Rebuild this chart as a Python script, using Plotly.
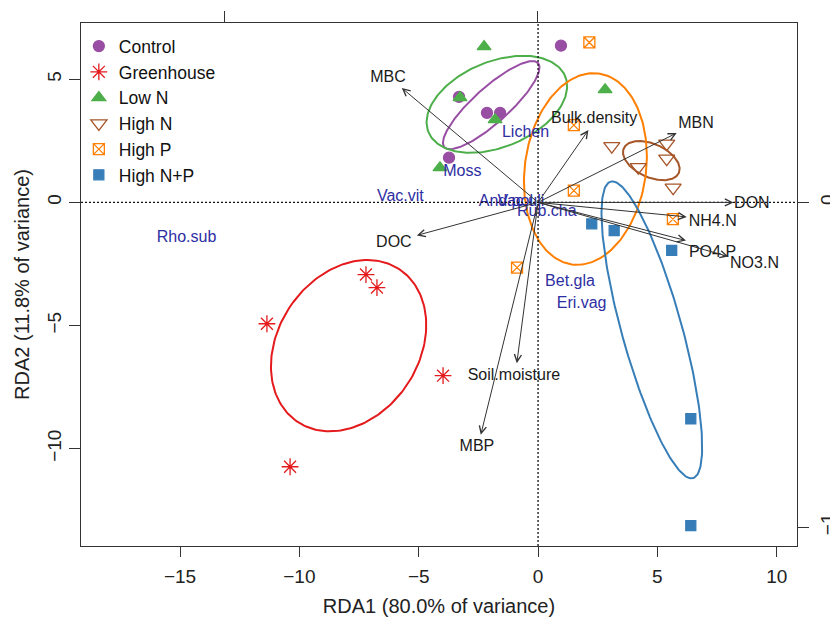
import numpy as np
import plotly.graph_objects as go

# ---------------- data ----------------
groups = ["Control", "Greenhouse", "Low N", "High N", "High P", "High N+P"]

ctrl_x = [0.96, -3.31, -2.14, -1.59, -3.73]
ctrl_y = [6.37, 4.29, 3.64, 3.64, 1.82]
gh_x = [-11.36, -7.21, -6.75, -10.39, -3.98]
gh_y = [-4.93, -2.93, -3.46, -10.74, -7.04]
lown_x = [-2.26, 2.81, -3.27, -1.80, -4.11]
lown_y = [6.33, 4.58, 4.26, 3.36, 1.41]
highn_x = [3.09, 5.39, 5.39, 4.20, 5.66]
highn_y = [2.29, 2.39, 1.78, 1.43, 0.60]
highp_x = [2.15, 1.50, 1.50, -0.88, 5.65]
highp_y = [6.50, 3.14, 0.48, -2.65, -0.68]
highnp_x = [2.25, 3.19, 5.60, 6.40, 6.40]
highnp_y = [-0.87, -1.15, -1.95, -8.79, -13.13]

env_names = ["MBC", "Bulk.density", "MBN", "DON", "NH4.N", "PO4.P", "NO3.N",
             "DOC", "Soil.moisture", "MBP"]
env_x = [-5.71, 2.11, 5.81, 8.19, 6.23, 6.20, 7.98, -5.08, -0.89, -2.40]
env_y = [4.65, 2.94, 2.82, 0.00, -0.59, -1.55, -2.20, -1.34, -6.53, -9.44]
env_lab_x = [-6.29, 2.35, 6.62, 8.96, 7.32, 7.31, 9.07, -6.04, -1.01, -2.56]
env_lab_y = [5.06, 3.39, 3.20, -0.07, -0.80, -2.07, -2.49, -1.65, -7.05, -9.94]

sp_names = ["Lichen", "Moss", "Vac.vit", "Rho.sub", "And.pol", "Vac.uli",
            "Rub.cha", "Bet.gla", "Eri.vag"]
sp_x = [-0.038, -0.240, -0.438, -1.121, -0.101, -0.053, 0.030, 0.104, 0.141]
sp_y = [0.214, 0.095, 0.018, -0.110, 0.002, 0.002, -0.029, -0.244, -0.312]

x_ticks = [-15, -10, -5, 0, 5, 10]
y_ticks = [-10, -5, 0, 5]
x2_ticks = [-1, 0]
y2_ticks = [-1, 0]

# ---------------- styles ----------------
group_xy = [(ctrl_x, ctrl_y), (gh_x, gh_y), (lown_x, lown_y),
            (highn_x, highn_y), (highp_x, highp_y), (highnp_x, highnp_y)]
colors = ["#984EA3", "#E41A1C", "#4DAF4A", "#A65628", "#FF7F00", "#377EB8"]
symbols = ["circle", "asterisk-open", "triangle-up", "triangle-down-open",
           "square-x-open", "square"]
sizes = [11, 14, 12, 14, 11, 10]
FONT = "Liberation Sans, Arial, sans-serif"


def se_ellipse(x, y, conf_scale=np.sqrt(5.991465), n=200):
    pts = np.column_stack([x, y])
    c = pts.mean(axis=0)
    cov = np.cov(pts.T) / len(x)
    vals, vecs = np.linalg.eigh(cov)
    t = np.linspace(0, 2 * np.pi, n)
    circ = np.column_stack([np.cos(t), np.sin(t)])
    e = circ * np.sqrt(vals) * conf_scale
    e = e @ vecs.T + c
    return e[:, 0], e[:, 1]


fig = go.Figure()

# ellipses
for (gx, gy), col in zip(group_xy, colors):
    ex, ey = se_ellipse(gx, gy)
    fig.add_trace(go.Scatter(x=ex, y=ey, mode="lines", line=dict(color=col, width=2),
                             showlegend=False, hoverinfo="skip"))

# points
for name, (gx, gy), col, sym, sz in zip(groups, group_xy, colors, symbols, sizes):
    fig.add_trace(go.Scatter(x=gx, y=gy, mode="markers", name=name,
                             marker=dict(symbol=sym, color=col, size=sz,
                                         line=dict(color=col, width=1.3))))

# species labels (secondary axes)
fig.add_trace(go.Scatter(x=sp_x, y=sp_y, mode="text", text=sp_names,
                         xaxis="x2", yaxis="y2", showlegend=False,
                         textfont=dict(family=FONT, size=16, color="#2E2EA3")))

# environmental labels
fig.add_trace(go.Scatter(x=env_lab_x, y=env_lab_y, mode="text", text=env_names,
                         showlegend=False,
                         textfont=dict(family=FONT, size=16, color="#1a1a1a")))

# arrows
for ex_, ey_ in zip(env_x, env_y):
    fig.add_annotation(x=ex_, y=ey_, ax=0, ay=0, xref="x", yref="y",
                       axref="x", ayref="y", text="", showarrow=True,
                       arrowhead=5, arrowsize=1.4, arrowwidth=1, arrowcolor="#333333")

fig.add_hline(y=0, line=dict(color="#111111", width=1.3, dash="2px,2px"))
fig.add_vline(x=0, line=dict(color="#111111", width=1.3, dash="2px,2px"))

axis_common = dict(showgrid=False, zeroline=False, showline=True, linecolor="#333333",
                   linewidth=1.3, ticks="outside", tickcolor="#333333", tickwidth=1.3,
                   automargin=False,
                   tickfont=dict(family=FONT, size=19, color="#222222"))

fig.update_layout(
    width=830, height=621,
    margin=dict(l=81, r=33, t=23, b=75),
    paper_bgcolor="white", plot_bgcolor="white",
    font=dict(family=FONT, color="#222222"),
    xaxis=dict(range=[-19.15, 10.85], tickvals=x_ticks, ticklen=10,
               ticklabelstandoff=3,
               title=dict(text="RDA1 (80.0% of variance)", font=dict(size=20), standoff=13),
               **axis_common),
    yaxis=dict(range=[-13.96, 7.29], tickvals=y_ticks, ticklen=11, tickangle=-90,
               ticklabelstandoff=0,
               title=dict(text="RDA2 (11.8% of variance)", font=dict(size=20), standoff=9),
               **axis_common),
    xaxis2=dict(range=[-1.458, 0.829], tickvals=x2_ticks, ticklen=11, overlaying="x",
                side="top", anchor="y", showticklabels=False, **axis_common),
    yaxis2=dict(range=[-1.058, 0.553], tickvals=y2_ticks, ticklen=11, overlaying="y",
                side="right", anchor="x", tickangle=-90, ticklabelstandoff=2,
                **axis_common),
    legend=dict(x=-0.003, y=0.99, xanchor="left", yanchor="top", bgcolor="rgba(0,0,0,0)",
                font=dict(family=FONT, size=17.5, color="#111111"), itemwidth=30,
                tracegroupgap=0),
    showlegend=True,
)

fig.write_html("out.html")
